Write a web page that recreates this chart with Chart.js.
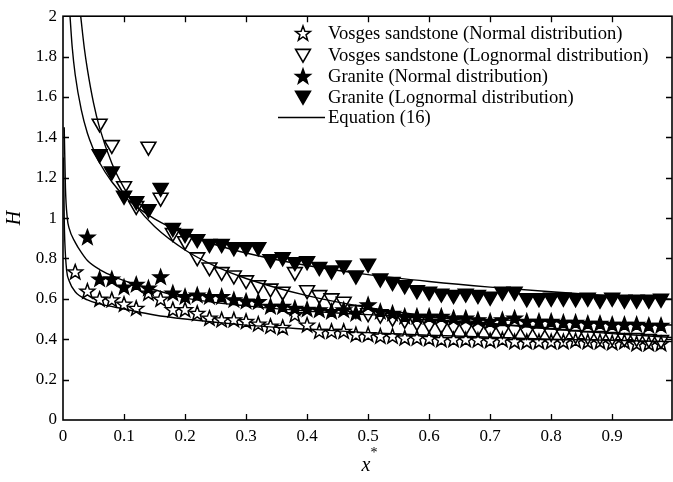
<!DOCTYPE html>
<html><head><meta charset="utf-8">
<script src="https://cdn.jsdelivr.net/npm/chart.js@4.4.1/dist/chart.umd.min.js"></script>
<style>html,body{margin:0;padding:0;background:#fff;overflow:hidden}#wrap{position:relative;width:673px;height:482px}</style>
</head><body><div id="wrap"><canvas id="c" width="673" height="482"></canvas></div>
<script>
// ---- data ----
const xAll = [0.02,0.04,0.06,0.08,0.10,0.12,0.14,0.16,0.18,0.20,0.22,0.24,0.26,0.28,0.30,0.32,0.34,0.36,0.38,0.40,0.42,0.44,0.46,0.48,0.50,0.52,0.54,0.56,0.58,0.60,0.62,0.64,0.66,0.68,0.70,0.72,0.74,0.76,0.78,0.80,0.82,0.84,0.86,0.88,0.90,0.92,0.94,0.96,0.98];
const vosgesNormalH = [0.735,0.64,0.60,0.597,0.575,0.555,0.63,0.60,0.548,0.548,0.53,0.506,0.498,0.498,0.49,0.477,0.466,0.46,0.523,0.472,0.441,0.441,0.441,0.425,0.425,0.417,0.417,0.408,0.408,0.405,0.40,0.40,0.40,0.398,0.395,0.40,0.39,0.39,0.39,0.39,0.39,0.395,0.39,0.39,0.385,0.39,0.38,0.38,0.38];
const graniteNormalH = [0.907,0.70,0.70,0.66,0.673,0.655,0.71,0.63,0.613,0.62,0.613,0.613,0.597,0.59,0.588,0.564,0.564,0.555,0.55,0.547,0.539,0.547,0.53,0.572,0.539,0.53,0.515,0.515,0.515,0.515,0.506,0.506,0.498,0.49,0.498,0.506,0.49,0.49,0.49,0.485,0.485,0.48,0.48,0.475,0.475,0.475,0.47,0.47];
const vosgesLogH = [1.462,1.356,1.152,1.054,1.348,1.095,0.92,0.88,0.80,0.75,0.727,0.71,0.686,0.662,0.645,0.63,0.727,0.637,0.613,0.597,0.58,0.539,0.523,0.515,0.50,0.49,0.48,0.47,0.465,0.46,0.455,0.45,0.445,0.44,0.44,0.435,0.43,0.425,0.42,0.415,0.41,0.41,0.405,0.40,0.40,0.395,0.39];
const graniteLogH = [1.31,1.225,1.105,1.078,1.038,1.144,0.945,0.915,0.89,0.866,0.866,0.85,0.85,0.85,0.79,0.80,0.776,0.78,0.752,0.735,0.76,0.71,0.768,0.695,0.678,0.662,0.637,0.629,0.62,0.613,0.62,0.613,0.605,0.629,0.629,0.597,0.597,0.60,0.60,0.597,0.60,0.59,0.60,0.59,0.59,0.59,0.595];

// Equation (16) curves
const eqGraniteLogX = [0.0115,0.015,0.02,0.03,0.04,0.05,0.06,0.08,0.1,0.12,0.15,0.2,0.25,0.3,0.4,0.5,0.6,0.7,0.8,0.9,1.0];
const eqGraniteLogH = [2.0,1.85,1.71,1.536,1.42,1.34,1.274,1.18,1.11,1.058,0.996,0.922,0.868,0.827,0.765,0.72,0.686,0.658,0.635,0.615,0.598];
const eqVosgesLogX = [0.029,0.035,0.04,0.05,0.06,0.08,0.1,0.12,0.15,0.2,0.25,0.3,0.4,0.5,0.6,0.7,0.8,0.9,1.0];
const eqVosgesLogH = [2.0,1.84,1.737,1.571,1.447,1.272,1.15,1.059,0.958,0.842,0.761,0.701,0.616,0.557,0.514,0.479,0.451,0.428,0.408];
const eqGraniteNormX = [0.002,0.004,0.007,0.01,0.02,0.03,0.04,0.06,0.08,0.1,0.15,0.2,0.3,0.4,0.5,0.6,0.7,0.8,0.9,1.0];
const eqGraniteNormH = [1.45,1.15,1.0,0.95,0.88,0.83,0.79,0.745,0.715,0.69,0.645,0.605,0.565,0.54,0.522,0.508,0.497,0.487,0.478,0.47];
const eqVosgesNormX = [0.001,0.002,0.003,0.006,0.01,0.02,0.04,0.06,0.1,0.15,0.2,0.3,0.4,0.5,0.6,0.7,0.8,0.9,1.0];
const eqVosgesNormH = [1.3,1.0,0.88,0.74,0.69,0.635,0.595,0.575,0.55,0.52,0.50,0.47,0.45,0.433,0.42,0.41,0.40,0.395,0.388];

const xTicks = [0,0.1,0.2,0.3,0.4,0.5,0.6,0.7,0.8,0.9];
const yTicks = [0,0.2,0.4,0.6,0.8,1,1.2,1.4,1.6,1.8,2];
const legendLabels = ['Vosges sandstone (Normal distribution)','Vosges sandstone (Lognormal distribution)','Granite (Normal distribution)','Granite (Lognormal distribution)','Equation (16)'];
const markerKinds = ['openStar','openTri','fillStar','fillTri'];

// ---- marker drawing (vector) ----
function drawMarker(g,kind,x,y){
  g.save();
  g.strokeStyle='#000'; g.fillStyle='#000'; g.lineJoin='miter';
  g.beginPath();
  if(kind.endsWith('Star')){
    const R=7.8, r=3.2, cy=y+0.8;
    for(let i=0;i<10;i++){const a=-Math.PI/2+i*Math.PI/5; const rr=i%2?r:R; g.lineTo(x+rr*Math.cos(a), cy+rr*Math.sin(a));}
    g.lineWidth=1.5;
  } else {
    const hw=7.4;
    g.moveTo(x-hw,y-5.6); g.lineTo(x+hw,y-5.6); g.lineTo(x,y+7.2);
    g.lineWidth=1.6;
  }
  g.closePath();
  if(kind.startsWith('fill')) g.fill();
  g.stroke();
  g.restore();
}

const pts=(xs,ys)=>ys.map((y,i)=>({x:xs[i],y}));
const ptsFrom=(start,ys)=>ys.map((y,i)=>({x:xAll[start+i],y}));

function scatterDs(label,data,kind){
  return {type:'scatter',label,data,kind,pointRadius:0,pointHoverRadius:0,showLine:false,order:1};
}
function lineDs(xs,ys){
  return {type:'line',label:'Equation (16)',data:pts(xs,ys),borderColor:'#000',borderWidth:1.4,pointRadius:0,
    cubicInterpolationMode:'monotone',fill:false,order:2};
}

const F = "'Liberation Serif','Times New Roman',serif";
const fmt = v=>(Math.abs(v)<1e-9?'0':Number(v.toFixed(1)).toString());

const markers = {
  id:'markers',
  afterDatasetsDraw(chart){
    const g=chart.ctx, a=chart.chartArea;
    g.save();
    g.beginPath(); g.rect(a.left,a.top,a.right-a.left,a.bottom-a.top); g.clip();
    chart.data.datasets.forEach((ds,i)=>{
      if(!ds.kind) return;
      chart.getDatasetMeta(i).data.forEach(el=>drawMarker(g,ds.kind,el.x,el.y));
    });
    g.restore();
  }
};

const frame = {
  id:'frame',
  afterDraw(chart){
    const g=chart.ctx, a=chart.chartArea, xs=chart.scales.x, ys=chart.scales.y;
    g.save();
    g.strokeStyle='#000'; g.lineWidth=1.3;
    g.beginPath();
    xTicks.slice(1).forEach(v=>{
      const p=Math.round(xs.getPixelForValue(v))+0.5;
      g.moveTo(p,a.bottom); g.lineTo(p,a.bottom-6);
      g.moveTo(p,a.top); g.lineTo(p,a.top+6);
    });
    yTicks.slice(1,-1).forEach(v=>{
      const p=Math.round(ys.getPixelForValue(v))+0.5;
      g.moveTo(a.left,p); g.lineTo(a.left+6,p);
      g.moveTo(a.right,p); g.lineTo(a.right-6,p);
    });
    g.stroke();
    g.lineWidth=1.6;
    g.strokeRect(a.left,a.top,a.right-a.left,a.bottom-a.top);
    // axis titles
    g.fillStyle='#000';
    g.font="italic 20px "+F; g.textAlign='center'; g.textBaseline='middle';
    g.save(); g.translate(15,(a.top+a.bottom)/2); g.rotate(-Math.PI/2); g.fillText('H',0,0); g.restore();
    g.fillText('x',366,466);
    g.font="14px "+F; g.fillText('*',374,453);
    // legend
    const rows=[33,55,76,97,117];
    g.font="18.6px "+F; g.textAlign='left';
    for(let i=0;i<5;i++){
      if(i<4){drawMarker(g,markerKinds[i],303,rows[i]);}
      else{g.lineWidth=1.4; g.beginPath(); g.moveTo(278,rows[i]+0.5); g.lineTo(325,rows[i]+0.5); g.stroke();}
      g.fillText(legendLabels[i],328,rows[i]+1);
    }
    g.restore();
  }
};

new Chart(document.getElementById('c'),{
  data:{datasets:[
    scatterDs(legendLabels[0],ptsFrom(0,vosgesNormalH),markerKinds[0]),
    scatterDs(legendLabels[1],ptsFrom(2,vosgesLogH),markerKinds[1]),
    scatterDs(legendLabels[2],ptsFrom(1,graniteNormalH),markerKinds[2]),
    scatterDs(legendLabels[3],ptsFrom(2,graniteLogH),markerKinds[3]),
    lineDs(eqGraniteLogX,eqGraniteLogH),
    lineDs(eqVosgesLogX,eqVosgesLogH),
    lineDs(eqGraniteNormX,eqGraniteNormH),
    lineDs(eqVosgesNormX,eqVosgesNormH)
  ]},
  options:{
    responsive:false, animation:false, devicePixelRatio:1,
    layout:{padding:{left:0,top:12,right:1,bottom:0}},
    plugins:{legend:{display:false},tooltip:{enabled:false}},
    scales:{
      x:{type:'linear',min:0,max:0.998,
        afterFit(s){s.height=62;},
        afterBuildTicks(s){s.ticks=xTicks.map(v=>({value:v}));},
        grid:{display:false,drawTicks:false},border:{display:false},
        ticks:{padding:6,autoSkip:false,color:'#000',font:{family:F,size:17},maxRotation:0,callback:fmt}},
      y:{type:'linear',min:0,max:2,
        afterFit(s){s.width=63;},
        afterBuildTicks(s){s.ticks=yTicks.map(v=>({value:v}));},
        grid:{display:false,drawTicks:false},border:{display:false},
        ticks:{padding:6,autoSkip:false,color:'#000',font:{family:F,size:17},callback:fmt}}
    }
  },
  plugins:[markers,frame]
});
</script></body></html>
